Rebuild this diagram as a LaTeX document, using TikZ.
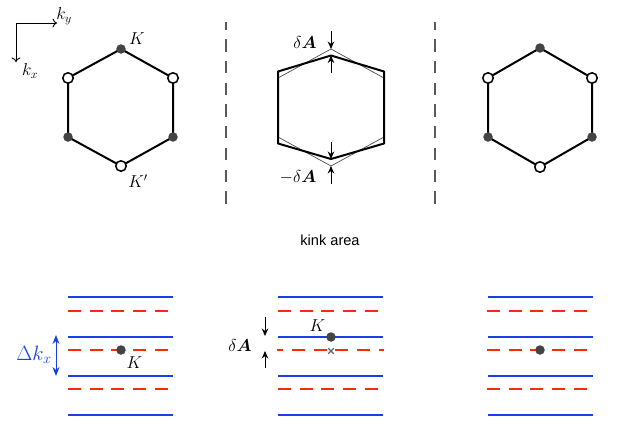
\documentclass[tikz,border=0pt]{standalone}
\usepackage{amsmath}
\usepackage{fontspec}
\newfontfamily\labelsans{Liberation Sans}
\usetikzlibrary{arrows.meta,calc}
\definecolor{dotgray}{HTML}{444444}
\definecolor{lineblue}{HTML}{1A3FE8}
\definecolor{linered}{HTML}{FF2A0A}
\begin{document}
\begin{tikzpicture}[x=1pt, y=-1pt,
  font=\fontsize{17.5}{21}\selectfont,
  hexedge/.style={line width=2pt, line join=round},
  thinedge/.style={line width=0.7pt, draw=black!70, line join=round},
  fdot/.style={circle, fill=dotgray, inner sep=0pt, minimum size=9.5pt},
  odot/.style={circle, draw=black, fill=white, line width=1.5pt, inner sep=0pt, minimum size=10.5pt},
  bline/.style={draw=lineblue, line width=2.2pt},
  rline/.style={draw=linered, line width=2.2pt, dash pattern=on 13pt off 8.7pt},
  vsep/.style={draw=black!65, line width=1.1pt, dash pattern=on 12.3pt off 9.4pt, dash phase=4.4pt},
  darrow/.style={-{Stealth[length=7.5pt,width=6.5pt]}, line width=1pt},
  axarrow/.style={-{To[length=4.5pt,width=9pt]}, line width=0.9pt},
  lbl/.style={inner sep=0pt}]
\useasboundingbox (0,0) rectangle (622,426);

% axes
\coordinate (O) at (16,23);
\coordinate (Ay) at (57,23);
\coordinate (Ax) at (16,62);
\draw[axarrow] (O) -- (Ay);
\draw[axarrow] (O) -- (Ax);
\node[lbl] (ky) at (64,16) {$k_y$};
\node[lbl] (kx) at (30,71) {$k_x$};

% left hexagon
\coordinate (L1) at (121,49);
\coordinate (L2) at (173,78);
\coordinate (L3) at (173,137);
\coordinate (L4) at (121,166);
\coordinate (L5) at (68,137);
\coordinate (L6) at (68,78);
\draw[hexedge] (L1)--(L2)--(L3)--(L4)--(L5)--(L6)--cycle;
\node[fdot] (LK) at (L1) {};
\node[odot] (Lo2) at (L2) {};
\node[fdot] (Lf3) at (L3) {};
\node[odot] (LKp) at (L4) {};
\node[fdot] (Lf5) at (L5) {};
\node[odot] (Lo6) at (L6) {};
\node[lbl] (Klab) at (137,39) {$K$};
\node[lbl] (Kplab) at (138,181) {$K'$};

% separators
\coordinate (S1a) at (226,22);
\coordinate (S1b) at (226,204);
\coordinate (S2a) at (435,22);
\coordinate (S2b) at (435,204);
\draw[vsep] (S1a) -- (S1b);
\draw[vsep] (S2a) -- (S2b);

% middle hexagon (thin, regular)
\coordinate (M1) at (331,49);
\coordinate (M2) at (384,78);
\coordinate (M3) at (384,137);
\coordinate (M4) at (331,166);
\coordinate (M5) at (278,137);
\coordinate (M6) at (278,78);
\draw[thinedge] (M1)--(M2)--(M3)--(M4)--(M5)--(M6)--cycle;
% middle hexagon (thick, deformed)
\coordinate (N1) at (331,55.5);
\coordinate (N2) at (384,71.5);
\coordinate (N3) at (384,143.5);
\coordinate (N4) at (331,159);
\coordinate (N5) at (278,143.5);
\coordinate (N6) at (278,71.5);
\draw[hexedge] (N1)--(N2)--(N3)--(N4)--(N5)--(N6)--cycle;
% delta A arrows
\coordinate (T1) at (331,31);
\coordinate (T2) at (331,73);
\coordinate (B1) at (331,142);
\coordinate (B2) at (331,184);
\draw[darrow] (T1) -- (M1);
\draw[darrow] (T2) -- (N1);
\draw[darrow] (B1) -- (N4);
\draw[darrow] (B2) -- (M4);
\node[lbl] (dAtop) at (305,42) {$\delta\boldsymbol{A}$};
\node[lbl] (dAbot) at (298,177) {$-\delta\boldsymbol{A}$};

% right hexagon
\coordinate (R1) at (540,48);
\coordinate (R2) at (592,78);
\coordinate (R3) at (592,137);
\coordinate (R4) at (540,167);
\coordinate (R5) at (488,137);
\coordinate (R6) at (488,78);
\draw[hexedge] (R1)--(R2)--(R3)--(R4)--(R5)--(R6)--cycle;
\node[fdot] (RK) at (R1) {};
\node[odot] (Ro2) at (R2) {};
\node[fdot] (Rf3) at (R3) {};
\node[odot] (RKp) at (R4) {};
\node[fdot] (Rf5) at (R5) {};
\node[odot] (Ro6) at (R6) {};

% kink area
\node[lbl, font=\labelsans\fontsize{14.6}{17}\selectfont] (kink) at (330,240) {kink area};

% bottom left
\foreach \y in {297,337,376,415} \draw[bline] (68,\y) -- (173,\y);
\foreach \y in {311,350,389} \draw[rline] (68,\y) -- (168,\y);
\node[fdot] (BLK) at (121,350) {};
\node[lbl] (BLKlab) at (134.5,363) {$K$};
\coordinate (DK1) at (56,335);
\coordinate (DK2) at (56,376);
\draw[{Stealth[length=9pt,width=7pt]}-{Stealth[length=9pt,width=7pt]}, draw=lineblue, fill=lineblue, line width=1pt] (DK1) -- (DK2);
\node[lbl, text=lineblue, font=\fontsize{20.74}{24}\selectfont] (dkx) at (34,355) {$\Delta k_x$};

% bottom middle
\foreach \y in {297,337,376,415} \draw[bline] (278,\y) -- (383,\y);
\draw[rline] (278,311) -- (378,311);
\draw[rline, dash phase=6.7pt] (277,350) -- (384,350);
\draw[rline] (278,389) -- (378,389);
\node[fdot] (BMK) at (331,337) {};
\node[lbl] (BMKlab) at (317.5,326) {$K$};
\coordinate (XM) at (331,351);
\draw[line width=1.1pt, draw=black!60] ($(XM)+(-2.8,-2.8)$) -- ($(XM)+(2.8,2.8)$);
\draw[line width=1.1pt, draw=black!60] ($(XM)+(-2.8,2.8)$) -- ($(XM)+(2.8,-2.8)$);
\coordinate (BA1) at (265,317);
\coordinate (BA1e) at (265,336);
\coordinate (BA2) at (265,368);
\coordinate (BA2e) at (265,351);
\draw[darrow] (BA1) -- (BA1e);
\draw[darrow] (BA2) -- (BA2e);
\node[lbl] (dAb) at (240,345) {$\delta\boldsymbol{A}$};

% bottom right
\foreach \y in {297,337,376,415} \draw[bline] (488,\y) -- (593,\y);
\foreach \y in {311,350,389} \draw[rline] (487,\y) -- (587,\y);
\node[fdot] (BRK) at (540,350) {};
\end{tikzpicture}
\end{document}
